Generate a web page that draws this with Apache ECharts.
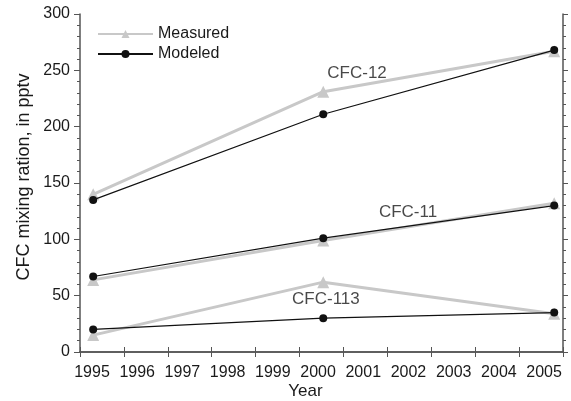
<!DOCTYPE html>
<html><head><meta charset="utf-8">
<script src="https://cdn.jsdelivr.net/npm/echarts@6/dist/echarts.min.js"></script>
<style>html,body{margin:0;padding:0;background:#fff}#c{width:571px;height:401px}</style>
</head><body><div id="c"></div>
<script>
var years = [1995.3, 2000.54, 2005.8];
var measured12 = [140, 231, 267];
var modeled12 = [135, 211, 268];
var measured11 = [64, 99, 132];
var modeled11 = [67, 101, 130];
var measured113 = [15, 62, 34];
var modeled113 = [20, 30, 35];
var tickYears = [1995,1996,1997,1998,1999,2000,2001,2002,2003,2004,2005];
var annotations = [
  {name: 'CFC-12', coord: [2001.31, 247]},
  {name: 'CFC-11', coord: [2002.47, 124]},
  {name: 'CFC-113', coord: [2000.6, 46.5]}
];
var yName = 'CFC mixing ration, in pptv';

var FONT = '"Liberation Sans", Arial, sans-serif';
var TXT = '#1a1a1a';
var AX = '#555';

function pairs(xs, ys){ return xs.map(function(x,i){ return [x, ys[i]]; }); }

var rich = {};
tickYears.forEach(function(y, i){
  var off = 12 + 1.3 * i;
  rich['p' + i] = {fontSize: 16, fontFamily: FONT, color: TXT, padding: [0,0,0,2*off]};
});

function measSeries(d){
  return {type:'line', name:'Measured', data: pairs(years, d), symbol:'triangle', symbolSize: 12,
    lineStyle:{color:'#c8c8c8', width:3}, itemStyle:{color:'#c8c8c8'}, z:2, animation:false};
}
function modSeries(d){
  return {type:'line', name:'Modeled', data: pairs(years, d), symbol:'circle', symbolSize: 8,
    lineStyle:{color:'#111', width:1.2}, itemStyle:{color:'#111'}, z:3, animation:false};
}

var annSeries = {
  type:'scatter', name:'ann', data: annotations.map(function(a){ return {value: a.coord, name: a.name}; }),
  symbolSize: 0, silent: true, animation:false, z:5,
  label:{show:true, position:'inside', formatter: function(p){ return p.name; }, fontSize:17, fontFamily: FONT, color: TXT}
};

var chart = echarts.init(document.getElementById('c'), null, {renderer:'canvas'});
chart.setOption({
  backgroundColor:'#fff',
  animation:false,
  grid:{left:80, right:8, top:14, bottom:49, containLabel:false, outerBoundsMode:'none'},
  legend:{
    data:['Measured','Modeled'], orient:'vertical', left:92, top:21, itemWidth:55, itemHeight:10, itemGap:4,
    textStyle:{fontSize:16, fontFamily:FONT, color:TXT}
  },
  xAxis:[{
    type:'value', min:1995, max:2006, interval:1, position:'bottom',
    name:'Year', nameLocation:'middle', nameGap:31, nameMoveOverlap:false,
    nameTextStyle:{fontSize:17, fontFamily:FONT, color:TXT, padding:[0,32,0,0]},
    axisLine:{show:true, lineStyle:{color:AX, width:1.5}},
    axisTick:{show:true, inside:false, length:5, lineStyle:{color:AX}},
    splitLine:{show:false},
    axisLabel:{margin:13, fontSize:16, fontFamily:FONT, color:TXT, rich: rich,
      formatter:function(v){ var i = tickYears.indexOf(v); return i < 0 ? '' : '{p' + i + '|' + v + '}'; }}
  },{
    type:'value', min:1995, max:2006, interval:1, position:'top',
    axisLine:{show:true, lineStyle:{color:AX, width:1.5}},
    axisTick:{show:true, inside:false, length:5, lineStyle:{color:AX}},
    axisLabel:{show:false}, splitLine:{show:false}
  }],
  yAxis:[{
    type:'value', min:0, max:300, interval:50, position:'left',
    name:'{n|' + yName + '}', nameLocation:'middle', nameGap:47, nameMoveOverlap:false,
    nameTextStyle:{fontSize:18, fontFamily:FONT, color:TXT,
      rich:{n:{fontSize:18, fontFamily:FONT, color:TXT, padding:[0,0,0,12]}}},
    axisLine:{show:true, lineStyle:{color:AX, width:1.5}},
    axisTick:{show:true, inside:false, length:6, lineStyle:{color:AX}},
    minorTick:{show:true, splitNumber:5, length:3, lineStyle:{color:AX}},
    splitLine:{show:false},
    axisLabel:{margin:10, fontSize:16, fontFamily:FONT, color:TXT}
  },{
    type:'value', min:0, max:300, interval:50, position:'right',
    axisLine:{show:true, lineStyle:{color:AX, width:1.5}},
    axisTick:{show:true, inside:false, length:5, lineStyle:{color:AX}},
    minorTick:{show:true, splitNumber:5, length:3, lineStyle:{color:AX}},
    axisLabel:{show:false}, splitLine:{show:false}
  }],
  series:[
    measSeries(measured12), measSeries(measured11), measSeries(measured113),
    modSeries(modeled12), modSeries(modeled11), modSeries(modeled113),
    annSeries
  ]
});
</script></body></html>
